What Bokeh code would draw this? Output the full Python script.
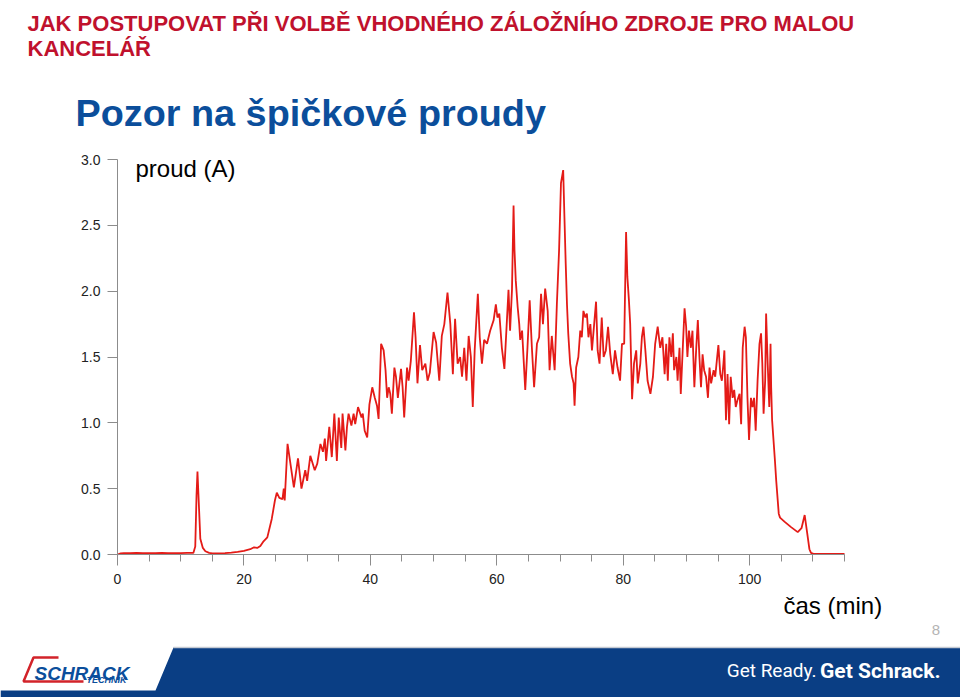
from bokeh.plotting import figure
from bokeh.models import Range1d, FixedTicker, PrintfTickFormatter
from bokeh.core.properties import value
from bokeh.embed import file_html
from bokeh.resources import INLINE

# ---------------- data ----------------
TITLE_1 = "JAK POSTUPOVAT PŘI VOLBĚ VHODNÉHO ZÁLOŽNÍHO ZDROJE PRO MALOU"
TITLE_2 = "KANCELÁŘ"
SUBTITLE = "Pozor na špičkové proudy"
Y_LABEL = "proud (A)"
X_LABEL = "čas (min)"
PAGE = "8"

time_a = [0, 0.5, 1, 2, 3, 4, 5, 6, 7, 8,
          9, 10, 11, 12, 12.3, 12.5, 12.65, 12.8, 13.1, 13.5,
          13.9, 14.5, 15, 16, 17, 18, 19, 20, 21, 21.6,
          22.1, 22.6, 23.1, 23.7, 24.4, 24.9, 25.2, 25.6, 26.1, 26.3,
          26.45, 26.9]
curr_a = [0.0, 0.008, 0.01, 0.01, 0.012, 0.01, 0.011, 0.01, 0.012, 0.01,
          0.011, 0.01, 0.012, 0.012, 0.06, 0.45, 0.63, 0.46, 0.12, 0.05,
          0.025, 0.012, 0.008, 0.008, 0.01, 0.014, 0.02, 0.027, 0.04, 0.055,
          0.05, 0.065, 0.10, 0.13, 0.27, 0.41, 0.47, 0.43, 0.42, 0.50,
          0.41, 0.84]

time_b = [27.9, 28.55, 29.1, 29.7, 30.0, 30.5, 31.2, 31.6, 32.1, 32.5,
          32.8, 33.0, 33.5, 33.9, 34.3, 34.7, 35.0, 35.4, 35.6, 36.05,
          36.3, 36.55, 37.0, 37.35, 37.6, 38.05, 38.6, 38.8, 39.1, 39.5,
          39.85, 40.3, 40.7, 41.05, 41.3, 41.7, 42.1, 42.4, 42.65, 42.9,
          43.15, 43.4, 43.8, 44.05, 44.35, 44.85, 45.1, 45.35, 45.8, 46.05,
          46.4, 46.9, 47.15, 47.45, 47.85, 48.2]
curr_b = [0.51, 0.73, 0.50, 0.64, 0.56, 0.75, 0.64, 0.69, 0.84, 0.78,
          0.88, 0.71, 0.97, 0.74, 1.07, 0.71, 1.04, 0.81, 1.07, 0.79,
          0.97, 1.07, 0.98, 1.07, 0.99, 1.12, 1.04, 1.07, 0.94, 0.89,
          1.14, 1.27, 1.19, 1.13, 1.03, 1.60, 1.55, 1.40, 1.19, 1.27,
          1.22, 1.07, 1.42, 1.35, 1.19, 1.41, 1.27, 1.04, 1.42, 1.32,
          1.47, 1.84, 1.65, 1.30, 1.59, 1.40]

time_c = [48.7, 49.05, 49.4, 50.0, 50.4, 50.9, 51.3, 51.7, 52.2, 52.65,
          53.05, 53.4, 53.8, 54.2, 54.5, 54.85, 55.2, 55.55, 55.9, 56.2,
          56.5, 57.0, 57.3, 57.65, 58.0, 58.45, 58.95, 59.5, 59.85, 60.1,
          60.4, 60.8, 61.2, 61.6, 61.85, 62.1, 62.4, 62.65, 62.8, 63.0,
          63.3, 63.55, 63.7, 64.0, 64.5, 64.85, 65.2, 65.55, 65.9, 66.35,
          66.7, 67.0, 67.3, 67.65, 68.05, 68.35, 68.7, 69.15, 69.5, 69.85]
curr_c = [1.45, 1.32, 1.38, 1.69, 1.61, 1.32, 1.66, 1.75, 1.99, 1.75,
          1.37, 1.79, 1.45, 1.50, 1.35, 1.57, 1.32, 1.66, 1.50, 1.12,
          1.55, 1.98, 1.65, 1.45, 1.63, 1.60, 1.70, 1.78, 1.90, 1.80,
          1.83, 1.57, 1.41, 1.78, 2.01, 1.70, 2.01, 2.65, 2.31, 2.08,
          1.88, 1.75, 1.63, 1.70, 1.25, 1.57, 1.93, 1.57, 1.27, 1.60,
          1.65, 1.98, 1.75, 2.02, 1.85, 1.40, 1.66, 1.40, 1.90, 2.31]

time_d = [70.15, 70.5, 70.7, 70.9, 71.1, 71.3, 71.6, 71.9, 72.15, 72.3,
          72.55, 72.9, 73.2, 73.45, 73.7, 74.0, 74.25, 74.5, 74.8, 75.05,
          75.4, 75.7, 75.95, 76.25, 76.6, 76.9, 77.25, 77.6, 77.95, 78.35,
          78.7, 79.1, 79.5, 79.8, 80.15, 80.45, 80.65, 80.9, 81.1, 81.4,
          81.7, 82.05, 82.3, 82.7, 82.95, 83.2, 83.5, 83.85, 84.3, 84.7,
          85.05, 85.45]
curr_d = [2.82, 2.92, 2.56, 2.21, 1.90, 1.68, 1.45, 1.35, 1.30, 1.13,
          1.42, 1.50, 1.70, 1.65, 1.85, 1.80, 1.83, 1.65, 1.75, 1.55,
          1.75, 1.92, 1.55, 1.45, 1.80, 1.50, 1.55, 1.73, 1.52, 1.37,
          1.55, 1.42, 1.32, 1.60, 1.60, 2.45, 2.11, 1.93, 1.75, 1.18,
          1.45, 1.55, 1.30, 1.45, 1.65, 1.73, 1.55, 1.32, 1.22, 1.35,
          1.60, 1.73]

time_e = [85.85, 86.2, 86.55, 86.8, 87.05, 87.3, 87.6, 87.85, 88.05, 88.4,
          88.6, 88.9, 89.1, 89.45, 89.7, 89.95, 90.15, 90.4, 90.7, 90.95,
          91.25, 91.55, 91.8, 92.05, 92.3, 92.55, 92.8, 93.1, 93.4, 93.65,
          93.9, 94.3, 94.55, 94.8, 95.05, 95.35, 95.6, 95.85, 96.0, 96.25,
          96.5, 96.75, 97.0, 97.3, 97.55, 97.8, 98.05, 98.4, 98.65, 98.9,
          99.2, 99.4, 99.65, 99.9, 100.2, 100.45, 100.7, 100.95, 101.25, 101.55,
          101.8, 102.0, 102.2, 102.45, 102.6, 102.85, 103.1]
curr_e = [1.57, 1.65, 1.37, 1.60, 1.32, 1.65, 1.50, 1.68, 1.40, 1.50,
          1.32, 1.57, 1.22, 1.60, 1.87, 1.73, 1.50, 1.70, 1.57, 1.70,
          1.27, 1.57, 1.78, 1.50, 1.27, 1.52, 1.40, 1.35, 1.19, 1.42,
          1.30, 1.40, 1.35, 1.47, 1.59, 1.37, 1.32, 1.45, 1.55, 1.02,
          1.37, 0.99, 1.35, 1.19, 1.25, 1.12, 1.17, 1.22, 0.99, 1.57,
          1.73, 1.65, 1.19, 0.87, 1.19, 1.12, 1.19, 0.94, 1.32, 1.60,
          1.68, 1.45, 1.07, 1.32, 1.83, 1.45, 1.12]

time_f = [103.3, 103.4, 103.55, 104.0, 104.2, 104.6, 104.8, 105.5, 106.5, 107.6,
          108.2, 108.7, 109.05, 109.45, 109.7, 110.1, 112, 115]
curr_f = [1.60, 1.27, 1.02, 0.71, 0.56, 0.31, 0.28, 0.25, 0.21, 0.17,
          0.20, 0.30, 0.18, 0.04, 0.012, 0.005, 0.005, 0.005]

x_major = [0, 20, 40, 60, 80, 100]
x_minor = list(range(0, 116, 5))
y_major = [0.0, 0.5, 1.0, 1.5, 2.0, 2.5, 3.0]

time_min = time_a + time_b + time_c + time_d + time_e + time_f
current_a = curr_a + curr_b + curr_c + curr_d + curr_e + curr_f

# ---------------- styles / page geometry ----------------
RED_TITLE = "#C0112D"
BLUE = "#0B4E9B"
BAND = "#0A3E84"
LINE_RED = "#E41B17"
AXIS_GRAY = "#8C8C8C"
FONT_NAME = "Liberation Sans"

W, H = 960, 697
# where the chart's data box sits on the page (pixels)
F_LEFT, F_RIGHT, F_TOP, F_BOTTOM = 117, 844, 159, 554
X0, X1, Y0, Y1 = 0, 115, 0, 3.0


def dx(px):
    """page pixel x -> data x of the chart's scale"""
    return X0 + (px - F_LEFT) * (X1 - X0) / (F_RIGHT - F_LEFT)


def dy(py):
    """page pixel y (from top) -> data y of the chart's scale"""
    return Y0 + (F_BOTTOM - py) * (Y1 - Y0) / (F_BOTTOM - F_TOP)


# the frame spans the whole page; axes are pinned at the data origin
p = figure(width=W, height=H, x_range=Range1d(dx(0), dx(W)), y_range=Range1d(dy(H), dy(0)),
           toolbar_location=None, output_backend="svg", min_border=0,
           outline_line_color=None, background_fill_color="white", border_fill_color="white")
p.grid.visible = False

p.xaxis.ticker = FixedTicker(ticks=x_major, minor_ticks=x_minor)
p.yaxis.ticker = FixedTicker(ticks=y_major, minor_ticks=[])
p.yaxis.formatter = PrintfTickFormatter(format="%.1f")
p.xaxis.fixed_location = Y0
p.yaxis.fixed_location = X0
p.xaxis.bounds = (X0, X1)
p.yaxis.bounds = (Y0, Y1)
for ax in (p.xaxis, p.yaxis):
    ax.axis_line_color = AXIS_GRAY
    ax.major_tick_line_color = AXIS_GRAY
    ax.minor_tick_line_color = AXIS_GRAY
    ax.major_tick_in = 0
    ax.minor_tick_in = 0
    ax.major_label_text_font = FONT_NAME
    ax.major_label_text_font_size = "14px"
    ax.major_label_text_color = "#222222"
p.xaxis.major_tick_out = 11
p.xaxis.minor_tick_out = 7
p.xaxis.major_label_standoff = 8
p.yaxis.major_tick_out = 10
p.yaxis.minor_tick_out = 0
p.yaxis.major_label_standoff = 7

p.line(time_min, current_a, line_color=LINE_RED, line_width=1.8)


def label(px, py, text, size, color="black", style="normal", font=FONT_NAME,
          align="left", baseline="alphabetic"):
    p.text(x=[dx(px)], y=[dy(py)], text=[text], text_font=value(font),
           text_font_size=size, text_font_style=style, text_color=color,
           text_align=align, text_baseline=baseline)


# footer band (drawn first, behind texts)
p.patch(x=[dx(173), dx(W), dx(W), dx(0), dx(0), dx(155)],
        y=[dy(647), dy(647), dy(H), dy(H), dy(690), dy(690)],
        fill_color=BAND, line_color=None)
p.line(x=[dx(173), dx(W)], y=[dy(647), dy(647)], line_color="#C5CAD3", line_width=1.5)
# logo outline
p.line(x=[dx(58), dx(33), dx(23), dx(83)], y=[dy(657), dy(657), dy(681), dy(681)],
       line_color="#D2232A", line_width=2.5)

# header
label(27, 23, TITLE_1, "22px", RED_TITLE, "bold")
label(27, 48, TITLE_2, "22px", RED_TITLE, "bold")
label(75, 112, SUBTITLE, "37.8px", BLUE, "bold")

# axis captions
label(135, 168, Y_LABEL, "24px", baseline="middle")
label(783, 605, X_LABEL, "24px", baseline="middle")
label(935.5, 629, PAGE, "15px", "#B4B4B4", align="center", baseline="middle")

# logo / slogan
label(34, 673, "SCHRACK", "19px", BLUE, "bold italic")
label(86, 679.5, "TECHNIK", "9px", BLUE, "bold italic", baseline="middle")
label(816, 670, "Get Ready.", "19px", "white", "normal", font="Roboto",
      align="right", baseline="middle")
label(940, 670, "Get Schrack.", "21px", "white", "bold", font="Roboto",
      align="right", baseline="middle")

open("out.html", "w").write(file_html(p, INLINE))
